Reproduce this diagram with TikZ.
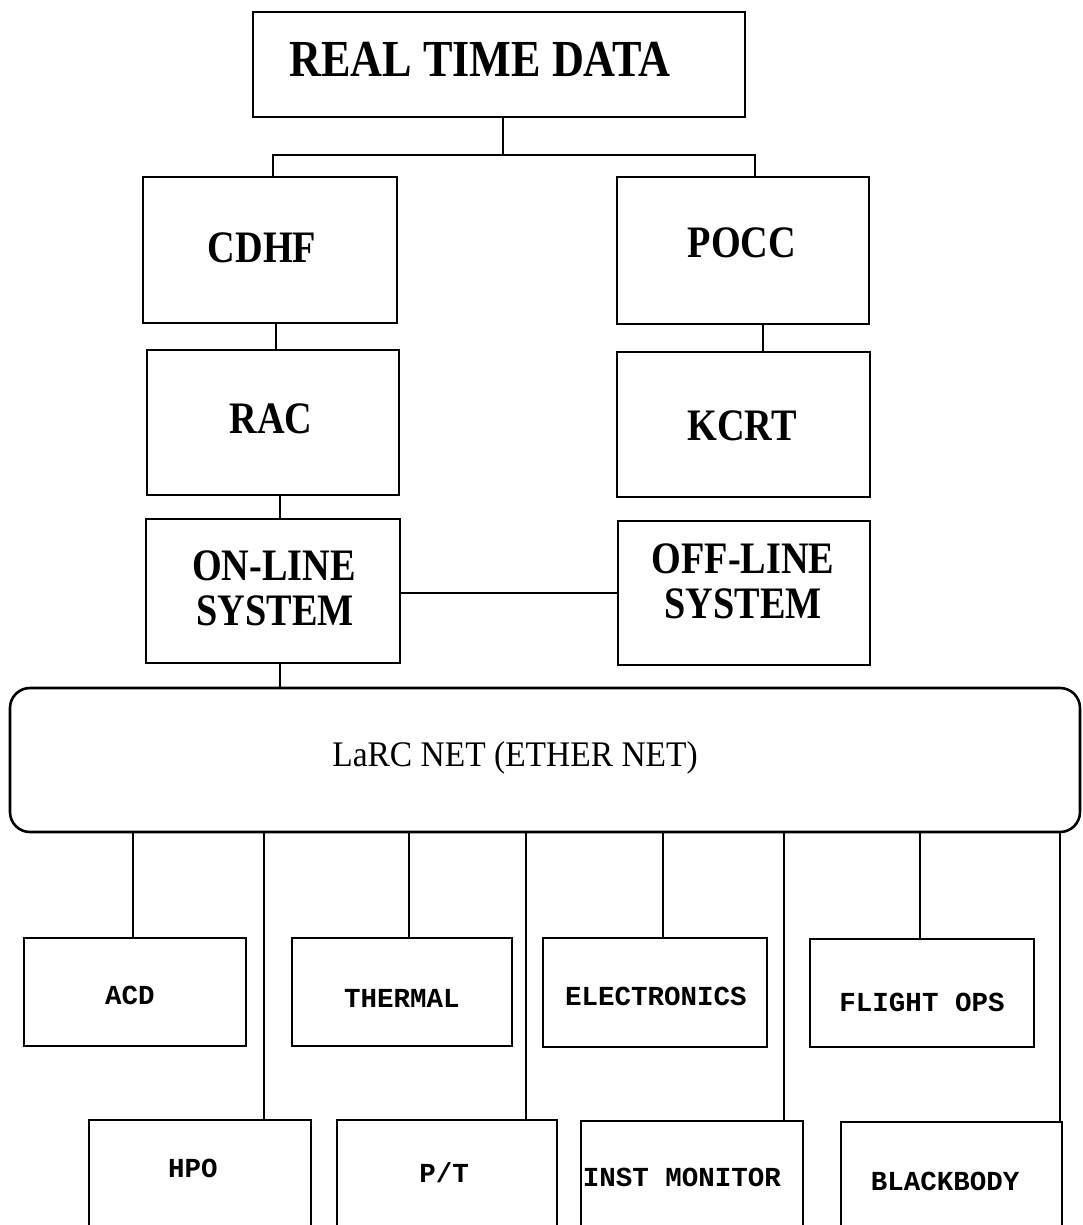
\documentclass[tikz,border=0pt]{standalone}
\usepackage{fontspec}
\setmainfont{Liberation Serif}
\newfontfamily\bigf{Liberation Serif}[FakeStretch=0.85]
\newfontfamily\netf{Liberation Serif}[FakeStretch=0.93]
\newfontfamily\smf{Liberation Mono}
\tikzset{
  blk/.style={draw, line width=2.6pt, rectangle, inner sep=0pt},
  wire/.style={line width=2.4pt},
  bigtxt/.style={anchor=base, inner sep=0pt, font=\bigf\bfseries\fontsize{45}{50}\selectfont},
  hugetxt/.style={anchor=base, inner sep=0pt, font=\bigf\bfseries\fontsize{52}{56}\selectfont},
  nettxt/.style={anchor=base, inner sep=0pt, font=\netf\fontsize{36}{40}\selectfont},
  smtxt/.style={anchor=base, inner sep=0pt, font=\smf\bfseries\fontsize{27.5}{30}\selectfont}
}
\newcommand\bx[5]{\node[blk, minimum width={#4-#2}, minimum height={#5-#3}] (#1) at ({(#2+#4)/2},{(#3+#5)/2}) {};}
\begin{document}
\begin{tikzpicture}[x=1pt,y=-1pt]
\useasboundingbox (0,0) rectangle (1083,1225);
\clip (0,0) rectangle (1083,1225);
% top boxes
\bx{rtd}{253}{12}{745}{117}
\node[hugetxt] (rtdT) at (480,77) {REAL TIME DATA};
\bx{cdhf}{143}{177}{397}{323}
\node[bigtxt] (cdhfT) at (262,262) {CDHF};
\bx{pocc}{617}{177}{869}{324}
\node[bigtxt] (poccT) at (742,257) {POCC};
\bx{rac}{147}{350}{399}{495}
\node[bigtxt] (racT) at (271,433) {RAC};
\bx{kcrt}{617}{352}{870}{497}
\node[bigtxt] (kcrtT) at (742,440) {KCRT};
\bx{onl}{146}{519}{400}{663}
\node[bigtxt] (onlT1) at (274,580) {ON-LINE};
\node[bigtxt] (onlT2) at (275,625) {SYSTEM};
\bx{offl}{618}{521}{870}{665}
\node[bigtxt] (offlT1) at (743,573) {OFF-LINE};
\node[bigtxt] (offlT2) at (743,618) {SYSTEM};
% network
\node[draw, line width=2.6pt, rounded corners=20pt, inner sep=0pt, minimum width=1070, minimum height=144] (net) at (545,760) {};
\node[nettxt] (netT) at (515,766) {LaRC NET (ETHER NET)};
% bottom row 1
\bx{acd}{24}{938}{246}{1046}
\node[smtxt] (acdT) at (130,1004) {ACD};
\bx{thermal}{292}{938}{512}{1046}
\node[smtxt] (thermalT) at (402,1007) {THERMAL};
\bx{electronics}{543}{938}{767}{1047}
\node[smtxt] (electronicsT) at (656,1005) {ELECTRONICS};
\bx{flight}{810}{939}{1034}{1047}
\node[smtxt] (flightT) at (922,1011) {FLIGHT OPS};
% bottom row 2
\bx{hpo}{89}{1120}{311}{1230}
\node[smtxt] (hpoT) at (193,1177) {HPO};
\bx{pt}{337}{1120}{557}{1230}
\node[smtxt] (ptT) at (444,1182) {P/T};
\bx{inst}{581}{1121}{803}{1230}
\node[smtxt] (instT) at (682,1186) {INST MONITOR};
\bx{bb}{841}{1122}{1062}{1230}
\node[smtxt] (bbT) at (945,1190) {BLACKBODY};
% connectors top
\coordinate (j) at (503,155);
\coordinate (jl) at (273,155);
\coordinate (jr) at (755,155);
\draw[wire] (rtd.south -| j) -- (j);
\draw[wire] (cdhf.north -| jl) -- (jl) -- (jr) -- (pocc.north -| jr);
\coordinate (a1) at (276,0);
\coordinate (a2) at (280,0);
\coordinate (b1) at (763,0);
\coordinate (h) at (0,593);
\draw[wire] (cdhf.south -| a1) -- (rac.north -| a1);
\draw[wire] (rac.south -| a2) -- (onl.north -| a2);
\draw[wire] (onl.south -| a2) -- (net.north -| a2);
\draw[wire] (pocc.south -| b1) -- (kcrt.north -| b1);
\draw[wire] (onl.east |- h) -- (offl.west |- h);
% connectors bottom
\foreach \n/\x in {acd/133, thermal/409, electronics/663, flight/920, hpo/264, pt/526, inst/784, bb/1060} {
  \coordinate (tmp) at (\x,0);
  \draw[wire] (net.south -| tmp) -- (\n.north -| tmp);
}
\end{tikzpicture}
\end{document}
